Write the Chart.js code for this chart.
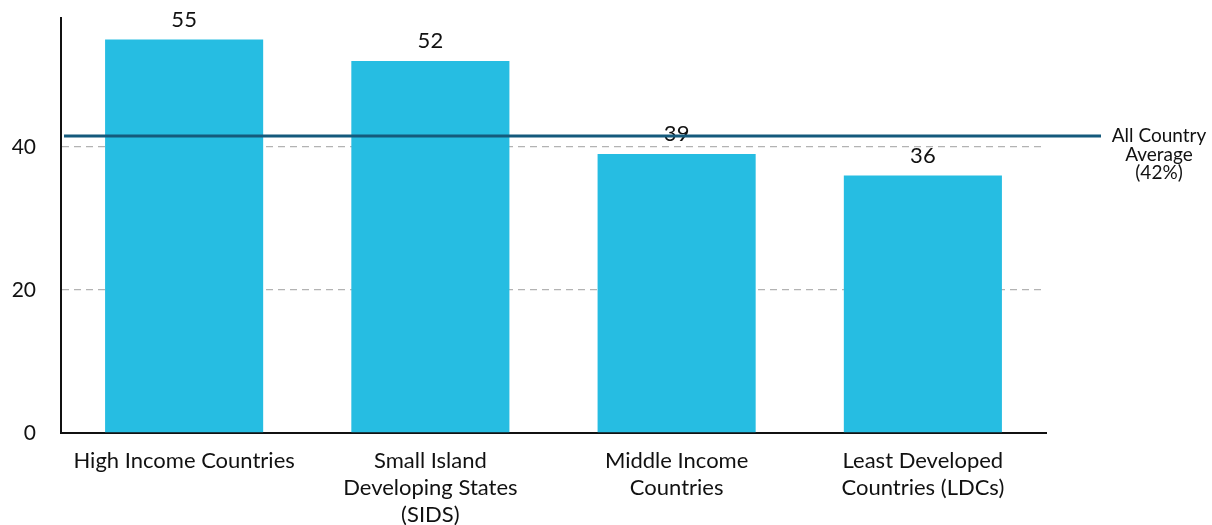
<!DOCTYPE html>
<html>
<head>
<meta charset="utf-8">
<script src="https://cdn.jsdelivr.net/npm/chart.js@4"></script>
<style>
  html, body { margin: 0; padding: 0; background: #fff; }
  #wrap { width: 1212px; height: 525px; }
</style>
</head>
<body>
<div id="wrap"><canvas id="chart"></canvas></div>
<script>
// données
const categories = [
    ["High Income Countries"],
    ["Small Island", "Developing States", "(SIDS)"],
    ["Middle Income", "Countries"],
    ["Least Developed", "Countries (LDCs)"]
];
const values = [55, 52, 39, 36];
const averageValue = 41.5;
const averageLabel = ["All Country", "Average", "(42%)"];
const yMax = 58;
const yStep = 20;

const FONT = "Lato, 'Open Sans', sans-serif";

// étiquettes au-dessus des barres
const valueLabels = {
    id: 'valueLabels',
    afterDatasetsDraw(chart) {
        const ctx = chart.ctx;
        const meta = chart.getDatasetMeta(0);
        ctx.save();
        ctx.font = "22px " + FONT;
        ctx.fillStyle = "#111";
        ctx.textAlign = "center";
        ctx.textBaseline = "bottom";
        meta.data.forEach((bar, i) => {
            ctx.fillText(String(values[i]), bar.x, bar.y - 9);
        });
        ctx.restore();
    }
};

// ligne de la moyenne
const averageLine = {
    id: 'averageLine',
    afterDraw(chart) {
        const ctx = chart.ctx;
        const y = chart.scales.y.getPixelForValue(averageValue);
        const area = chart.chartArea;
        ctx.save();
        ctx.strokeStyle = "#145a7c";
        ctx.lineWidth = 3;
        ctx.beginPath();
        ctx.moveTo(area.left + 3, y);
        ctx.lineTo(area.right + 55, y);
        ctx.stroke();
        ctx.font = "19px " + FONT;
        ctx.fillStyle = "#111";
        ctx.textAlign = "center";
        ctx.textBaseline = "middle";
        averageLabel.forEach((line, i) => {
            ctx.fillText(line, area.right + 113, y + i * 18.5);
        });
        ctx.restore();
    }
};

new Chart(document.getElementById('chart').getContext('2d'), {
    type: 'bar',
    data: {
        labels: categories,
        datasets: [{
            data: values,
            backgroundColor: "#26bde2",
            borderWidth: 0,
            barPercentage: 1,
            categoryPercentage: 0.642
        }]
    },
    options: {
        responsive: true,
        maintainAspectRatio: false,
        animation: false,
        layout: { padding: { top: 18, right: 166, left: 0, bottom: 0 } },
        plugins: {
            legend: { display: false },
            tooltip: { enabled: false }
        },
        scales: {
            x: {
                grid: { display: false, drawTicks: false },
                border: { color: "#111", width: 2 },
                ticks: {
                    color: "#111",
                    font: { family: FONT, size: 22, lineHeight: 1.23 },
                    padding: 14,
                    maxRotation: 0,
                    autoSkip: false
                },
                afterFit(scale) { scale.height = 92; }
            },
            y: {
                min: 0,
                max: yMax,
                grid: {
                    drawTicks: false,
                    color: ctx => (ctx.tick && ctx.tick.value > 0) ? "#b3b3b3" : "rgba(0,0,0,0)",
                    lineWidth: 1.3
                },
                border: { color: "#111", width: 2, dash: [7, 5], display: true },
                ticks: {
                    stepSize: yStep,
                    color: "#111",
                    font: { family: FONT, size: 21 },
                    padding: 25,
                    callback: v => (v % yStep === 0 ? v : null)
                },
                afterFit(scale) {
                    scale.width = 61;
                    scale.paddingTop = 0;
                    scale.paddingBottom = 0;
                }
            }
        }
    },
    plugins: [valueLabels, averageLine]
});
</script>
</body>
</html>
